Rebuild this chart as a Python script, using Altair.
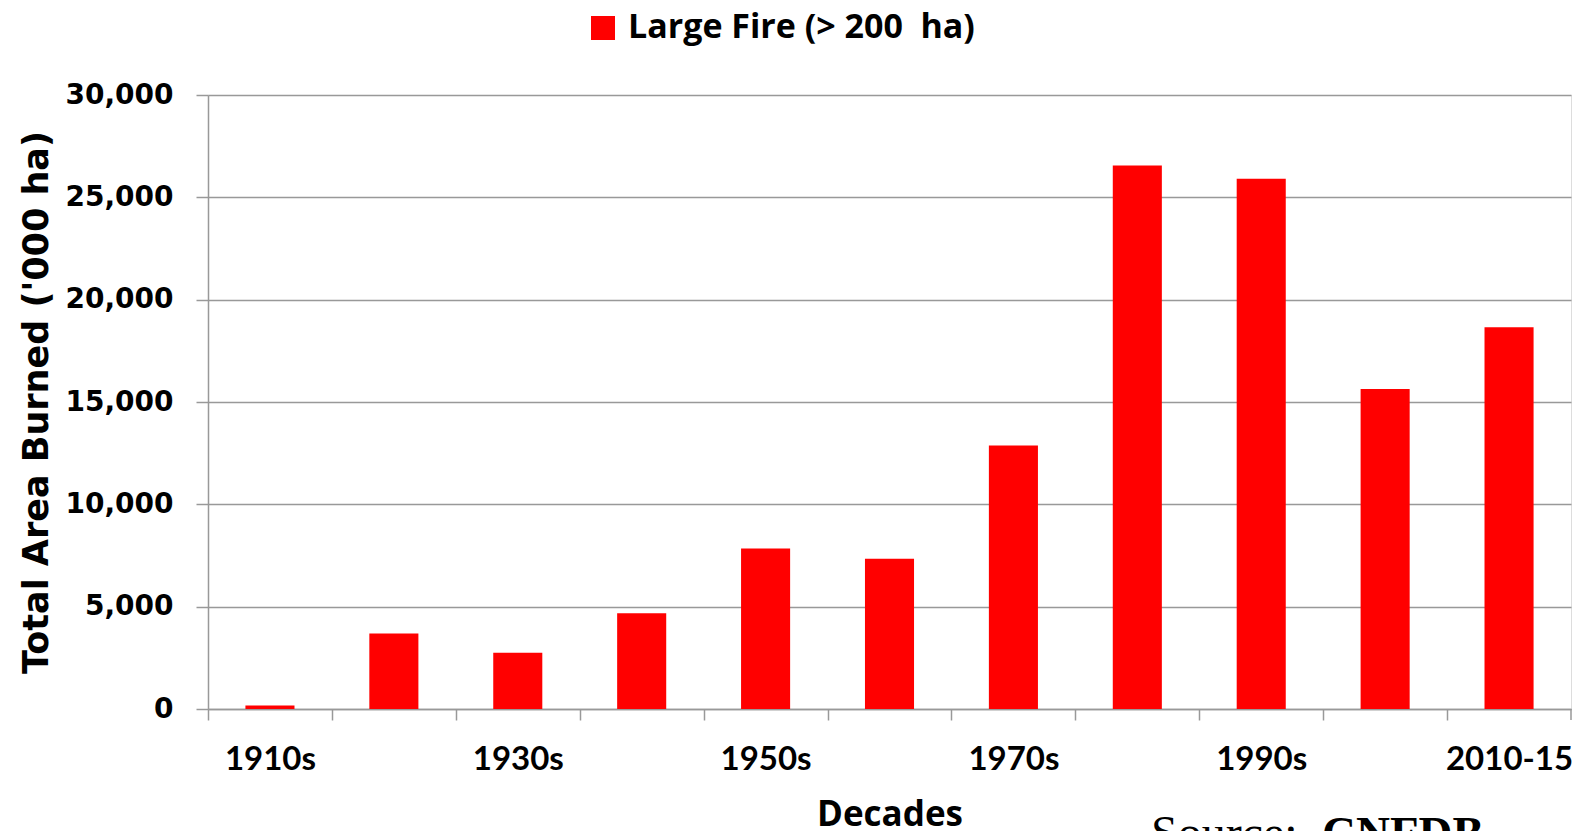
import altair as alt
import pandas as pd

decades = ["1910s", "1920s", "1930s", "1940s", "1950s", "1960s",
           "1970s", "1980s", "1990s", "2000s", "2010-15"]
area = [175, 3690, 2750, 4680, 7840, 7340, 12870, 26550, 25910, 15640, 18650]
shown_labels = ["1910s", "1930s", "1950s", "1970s", "1990s", "2010-15"]
y_ticks = [0, 5000, 10000, 15000, 20000, 25000, 30000]
series_name = "Large Fire (> 200\u00a0 ha)"

df = pd.DataFrame({"decade": decades, "area": area, "series": series_name})

W, H = 1363, 614
GRAY = "#999999"

label_expr = "indexof([" + ",".join(f"'{d}'" for d in shown_labels) + "], datum.value) >= 0 ? datum.value : ''"

bars = alt.Chart(df).mark_bar(color="#FF0000").encode(
    x=alt.X("decade:N", sort=decades,
            scale=alt.Scale(paddingInner=0.604, paddingOuter=0.302),
            axis=alt.Axis(title="Decades", tickOffset=-W / 22, labelOffset=W / 22,
                          labelExpr=label_expr, labelAngle=0, labelOverlap=False,
                          labelFlush=False, tickSize=11, labelPadding=23,
                          labelFont="Lato", labelFontWeight="bold", labelFontSize=33,
                          labelColor="black",
                          titleFont="Open Sans", titleFontWeight="bold", titleFontSize=35,
                          titleColor="black", titleY=116, titleBaseline="alphabetic",
                          domainColor=GRAY, tickColor=GRAY, domainWidth=1.5,
                          tickWidth=1.5, grid=False)),
    y=alt.Y("area:Q", scale=alt.Scale(domain=[0, 30000], nice=False),
            axis=alt.Axis(title="Total Area Burned ('000 ha)", values=y_ticks,
                          format=",d", tickSize=12, labelPadding=23,
                          labelFont="DejaVu Sans", labelFontWeight="bold",
                          labelFontSize=28, labelColor="black",
                          titleFont="DejaVu Sans", titleFontWeight="bold",
                          titleFontSize=35, titleColor="black", titleAngle=270,
                          titleX=-161, titleY=H / 2, titleBaseline="alphabetic",
                          grid=True, gridColor=GRAY, gridWidth=1.5,
                          domainColor=GRAY, tickColor=GRAY, domainWidth=1.5,
                          tickWidth=1.5)),
    color=alt.Color("series:N",
                    scale=alt.Scale(domain=[series_name], range=["#FF0000"]),
                    legend=alt.Legend(title=None, orient="none", legendX=378,
                                      legendY=-84, symbolType="square",
                                      symbolSize=576, symbolStrokeWidth=0,
                                      labelFont="Open Sans", labelFontWeight="bold",
                                      labelFontSize=34, labelColor="black",
                                      labelOffset=8, labelLimit=700)),
)

end_tick = alt.Chart(pd.DataFrame({"a": [0]})).mark_rule(
    color=GRAY, strokeWidth=1.5
).encode(x=alt.value(W), y=alt.value(H), y2=alt.value(H + 11))

src1 = alt.Chart(pd.DataFrame({"t": ["Source:"]})).mark_text(
    font="Liberation Serif", fontSize=48, align="left", baseline="alphabetic",
    color="black"
).encode(text="t:N", x=alt.value(943), y=alt.value(754))

src2 = alt.Chart(pd.DataFrame({"t": ["CNFDB"]})).mark_text(
    font="Liberation Serif", fontSize=47, fontWeight="bold", align="left",
    baseline="alphabetic", color="black"
).encode(text="t:N", x=alt.value(1114), y=alt.value(754))

chart = alt.layer(bars, end_tick, src1, src2).properties(
    width=W, height=H,
    autosize=alt.AutoSizeParams(type="none"),
    padding={"left": 200, "top": 87, "right": 6, "bottom": 122},
).configure_view(stroke=None).configure(background="white")

chart.save("out.html", embed_options={"renderer": "svg", "actions": False})
